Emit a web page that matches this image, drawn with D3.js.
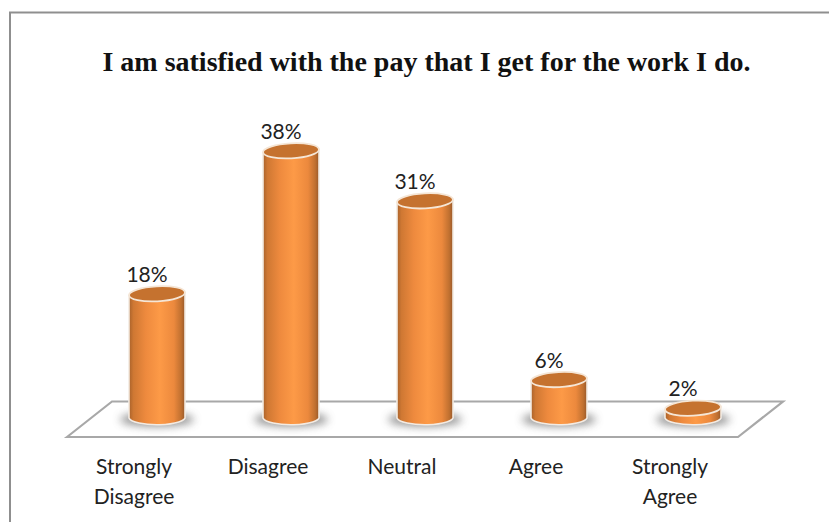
<!DOCTYPE html>
<html>
<head>
<meta charset="utf-8">
<script src="https://cdn.jsdelivr.net/npm/d3@7"></script>
<style>
html,body{margin:0;padding:0;background:#fff;overflow:hidden}
svg{display:block}
</style>
</head>
<body>
<svg id="chart" width="829" height="522"></svg>
<script>
const categories = ["Strongly Disagree", "Disagree", "Neutral", "Agree", "Strongly Agree"];
const percentValues = [18, 38, 31, 6, 2];
const titleText = "I am satisfied with the pay that I get for the work I do.";

const svg = d3.select("#chart");
const defs = svg.append("defs");

const cylinderFill = defs.append("linearGradient").attr("id", "cylinderFill");
[[0, "#a9622b"], [0.08, "#cf7833"], [0.3, "#ee8a3e"], [0.55, "#fd9a47"], [0.8, "#ec893d"], [0.93, "#c07030"], [1, "#96582a"]]
  .forEach(([o, c]) => cylinderFill.append("stop").attr("offset", o).attr("stop-color", c));

defs.append("filter").attr("id", "shadowBlur").attr("x", "-30%").attr("y", "-80%").attr("width", "160%").attr("height", "260%")
  .append("feGaussianBlur").attr("stdDeviation", 4);

const x = d3.scalePoint().domain(categories).range([157, 693]);
const y = d3.scaleLinear().domain([0, 38]).range([422.5, 150.8]);

const baseY = 418;
const rx = 28;
const ry = 7.5;
const tilt = -3;
const edgeLift = rx * Math.sin(-tilt * Math.PI / 180);

// Outer frame: open on the right and at the bottom
svg.append("path")
  .attr("d", "M10,522V12.5H829")
  .attr("fill", "none").attr("stroke", "#8f8f8f").attr("stroke-width", 2);

svg.append("text")
  .attr("x", 426.5).attr("y", 71)
  .attr("text-anchor", "middle")
  .attr("font-family", "'Liberation Serif', serif")
  .attr("font-weight", "bold")
  .attr("font-size", 28)
  .attr("fill", "#111")
  .text(titleText);

// Floor of the 3-D plot
svg.append("path")
  .attr("d", "M67,437L112,401.5H783L738,437Z")
  .attr("fill", "#fff").attr("stroke", "#a8a8a8").attr("stroke-width", 2.2);

const bars = svg.selectAll("g.bar")
  .data(categories.map((c, i) => ({ c, v: percentValues[i] })))
  .join("g").attr("class", "bar")
  .attr("transform", d => `translate(${x(d.c)},0)`);

bars.append("ellipse")
  .attr("cx", 0).attr("cy", baseY + 1.5).attr("rx", rx + 9).attr("ry", ry - 0.5)
  .attr("fill", "#6f6f6f").attr("opacity", 0.75)
  .attr("filter", "url(#shadowBlur)");

const outline = d => {
  const top = y(d.v);
  return `M${-rx},${top + edgeLift}V${baseY}A${rx},${ry} 0 0 0 ${rx},${baseY - edgeLift}V${top - edgeLift}Z`;
};

bars.append("path")
  .attr("d", outline)
  .attr("fill", "url(#cylinderFill)")
  .attr("stroke", "#f3ebe3").attr("stroke-width", 1.6);

bars.append("ellipse")
  .attr("cx", 0).attr("cy", d => y(d.v)).attr("rx", rx).attr("ry", ry)
  .attr("transform", d => `rotate(${tilt},0,${y(d.v)})`)
  .attr("fill", "#c5722f")
  .attr("stroke", "#f5e6d6").attr("stroke-width", 1.8);

bars.append("text")
  .attr("x", -10).attr("y", d => y(d.v) - 12)
  .attr("text-anchor", "middle")
  .attr("font-family", "Lato, sans-serif")
  .attr("font-size", 21)
  .attr("fill", "#222")
  .text(d => d.v + "%");

// Category labels, wrapped on the space for the two-word entries
const labels = svg.selectAll("text.cat")
  .data(categories)
  .join("text").attr("class", "cat")
  .attr("text-anchor", "middle")
  .attr("font-family", "Lato, sans-serif")
  .attr("font-size", 21)
  .attr("fill", "#222");

labels.each(function (c) {
  const t = d3.select(this);
  c.split(" ").forEach((w, k) => {
    t.append("tspan")
      .attr("x", x(c) - 23)
      .attr("y", 474 + k * 30)
      .text(w);
  });
});
</script>
</body>
</html>
